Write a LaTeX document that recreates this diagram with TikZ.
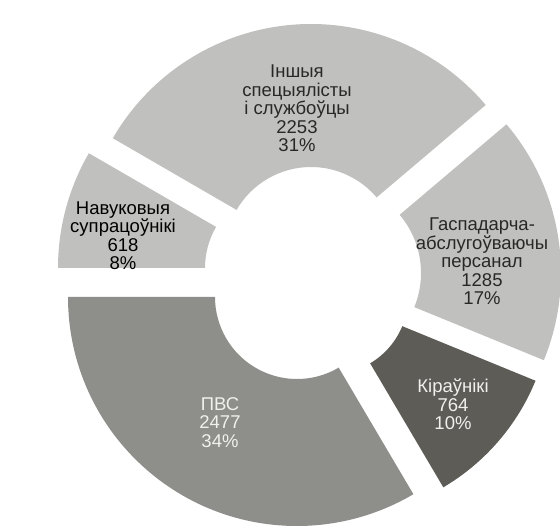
\documentclass[tikz,border=0pt]{standalone}
\usepackage{fontspec}
\setmainfont{Liberation Sans}
\definecolor{lightseg}{RGB}{192,192,190}
\definecolor{midseg}{RGB}{142,142,138}
\definecolor{darkseg}{RGB}{94,92,87}
\definecolor{darktext}{RGB}{40,40,40}
\definecolor{lighttext}{RGB}{240,240,238}
\newcommand\donutseg[7]{%
  \fill[#7, shift={(#1,#2)}] (#3:#5pt) -- (#3:#6pt)
    arc[start angle=#3, end angle=#4, radius=#6pt] -- (#4:#5pt)
    arc[start angle=#4, end angle=#3, radius=#5pt] -- cycle;}
\begin{document}
\begin{tikzpicture}[x=1pt,y=1pt,
  lbl/.style={align=center, inner sep=0pt, font=\fontsize{18.5}{18.5}\selectfont},
  darklbl/.style={lbl, text=darktext},
  lightlbl/.style={lbl, text=lighttext}]
\useasboundingbox[fill=white] (0,0) rectangle (560,531);
% segments: cx, cy, start, end, Rin, Rout, colour
\donutseg{311}{278}{40.27}{149.92}{86}{229}{lightseg}
\donutseg{331}{258}{-22.27}{40.27}{90}{230}{lightseg}
\donutseg{331}{234}{-59.45}{-22.27}{77}{221}{darkseg}
\donutseg{297}{234}{180}{300.55}{82}{229}{midseg}
\donutseg{287}{263}{149.92}{180}{82}{229}{lightseg}
% labels
\node[darklbl] (insh) at (297,422.6) {Іншыя\\спецыялісты\\і службоўцы\\2253\\31\%};
\node[lbl, text=black] (navuk) at (123,295.3) {Навуковыя\\супрацоўнікі\\618\\8\%};
\node[darklbl] (gasp) at (482,269.8) {Гаспадарча-\\абслугоўваючы\\персанал\\1285\\17\%};
\node[lightlbl] (pvs) at (220,108.7) {ПВС\\2477\\34\%};
\node[lightlbl] (kir) at (453,126.3) {Кіраўнікі\\764\\10\%};
\end{tikzpicture}
\end{document}
